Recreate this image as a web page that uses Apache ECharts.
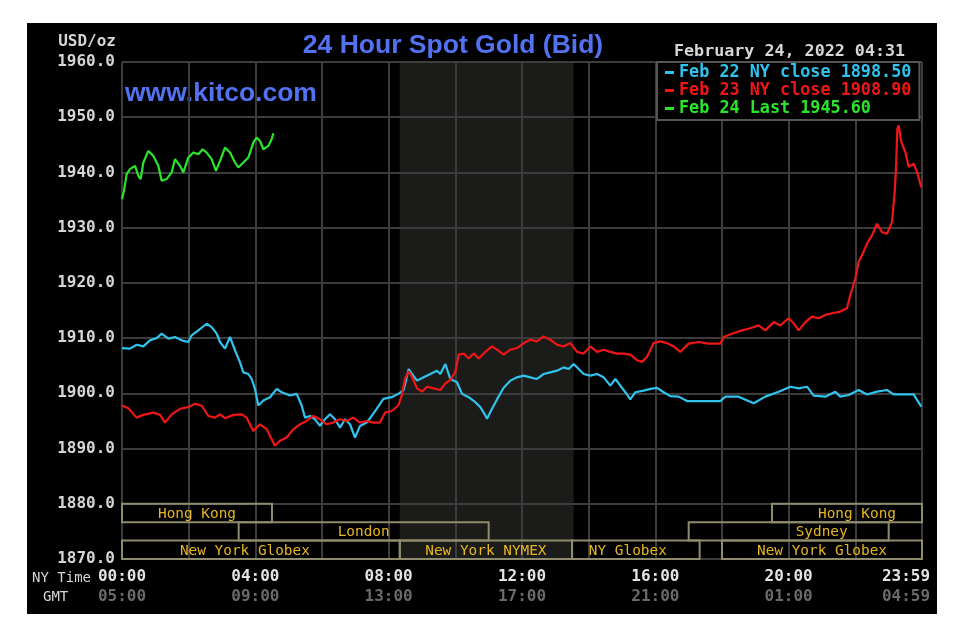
<!DOCTYPE html>
<html>
<head>
<meta charset="utf-8">
<script src="https://cdn.jsdelivr.net/npm/echarts@6.0.0/dist/echarts.min.js"></script>
<style>
  html, body { margin: 0; padding: 0; background: #ffffff; }
  #panel { position: absolute; left: 27px; top: 23px; width: 910px; height: 591px; background: #000000; }
  #chart { position: absolute; left: 0; top: 0; width: 960px; height: 640px; }
</style>
</head>
<body>
<div id="panel"></div>
<div id="chart"></div>
<script>
// ---------- data ----------
const seriesNames = ['Feb 22 NY close 1898.50', 'Feb 23 NY close 1908.90', 'Feb 24 Last 1945.60'];

const feb22Hours = [0,0.24,0.44,0.64,0.84,1.04,1.19,1.39,1.59,1.79,
  1.99,2.09,2.29,2.54,2.69,2.84,2.94,3.09,3.24,3.39,
  3.54,3.64,3.79,3.89,3.99,4.09,4.24,4.44,4.64,4.79,
  5.04,5.24,5.39,5.49,5.64,5.79,5.94,6.04,6.24,6.39,
  6.54,6.69,6.84,6.99,7.14,7.34,7.49,7.64,7.84,8.09,
  8.29,8.45,8.60,8.70,8.85,9.05,9.25,9.45,9.55,9.70,
  9.85,10.05,10.20,10.40,10.60,10.75,10.90,10.95,11.10,11.25,
  11.45,11.65,11.85,12.05,12.25,12.45,12.65,12.85,13.05,13.25,
  13.40,13.55,13.70,13.85,14.05,14.25,14.45,14.65,14.80,14.95,
  15.10,15.25,15.40,15.65,15.85,16.05,16.25,16.45,16.70,16.95,
  17.30,17.95,18.10,18.50,18.95,19.30,19.70,20.05,20.30,20.55,
  20.75,21.10,21.40,21.55,21.80,22.10,22.35,22.65,22.95,23.15,
  23.50,23.75,23.85,23.98];
const feb22Price = [1908.2,1908.1,1908.8,1908.5,1909.6,1910.0,1910.8,1909.9,1910.2,1909.6,
  1909.3,1910.5,1911.4,1912.6,1912.0,1910.8,1909.3,1908.1,1910.2,1907.8,
  1905.6,1903.8,1903.5,1902.6,1900.8,1897.8,1898.7,1899.3,1900.8,1900.2,
  1899.6,1899.9,1897.8,1895.6,1895.9,1895.3,1894.1,1895.0,1896.2,1895.3,
  1893.8,1895.3,1894.4,1892.0,1894.1,1894.7,1895.9,1897.2,1899.0,1899.3,
  1899.9,1900.6,1904.4,1903.5,1902.3,1902.9,1903.5,1904.1,1903.5,1905.3,
  1902.6,1902.0,1899.9,1899.3,1898.4,1897.5,1896.0,1895.4,1897.2,1898.9,
  1901.0,1902.3,1902.9,1903.2,1902.9,1902.6,1903.5,1903.8,1904.1,1904.7,
  1904.4,1905.3,1904.4,1903.5,1903.2,1903.5,1902.9,1901.4,1902.6,1901.4,
  1900.2,1898.9,1900.2,1900.5,1900.8,1901.0,1900.2,1899.5,1899.4,1898.6,
  1898.6,1898.6,1899.4,1899.4,1898.2,1899.4,1900.3,1901.2,1900.9,1901.2,
  1899.6,1899.4,1900.3,1899.4,1899.7,1900.6,1899.8,1900.3,1900.6,1899.8,
  1899.8,1899.8,1898.8,1897.6];

const feb23Hours = [0,0.19,0.44,0.64,0.94,1.14,1.29,1.49,1.74,1.99,
  2.19,2.39,2.59,2.79,2.94,3.09,3.34,3.59,3.74,3.94,
  4.14,4.34,4.49,4.59,4.74,4.94,5.14,5.34,5.54,5.74,
  5.94,6.14,6.34,6.54,6.74,6.94,7.14,7.34,7.54,7.74,
  7.89,8.09,8.29,8.39,8.49,8.60,8.70,8.85,9.00,9.15,
  9.35,9.55,9.70,9.85,10.00,10.10,10.25,10.40,10.55,10.70,
  10.90,11.10,11.25,11.45,11.65,11.85,12.05,12.25,12.45,12.65,
  12.85,13.05,13.25,13.45,13.65,13.85,14.05,14.25,14.45,14.65,
  14.85,15.05,15.25,15.45,15.60,15.75,15.95,16.15,16.35,16.55,
  16.75,17.00,17.30,17.60,17.95,18.05,18.30,18.60,18.80,19.10,
  19.30,19.55,19.75,20.00,20.15,20.30,20.50,20.70,20.90,21.10,
  21.30,21.55,21.75,21.85,22.00,22.10,22.20,22.35,22.50,22.65,
  22.80,22.95,23.10,23.18,23.22,23.26,23.30,23.38,23.50,23.60,
  23.75,23.85,23.98];
const feb23Price = [1897.8,1897.3,1895.6,1896.1,1896.5,1896.1,1894.7,1896.2,1897.2,1897.5,
  1898.1,1897.8,1895.9,1895.6,1896.2,1895.5,1896.1,1896.2,1895.6,1893.2,
  1894.4,1893.5,1891.7,1890.5,1891.4,1892.0,1893.5,1894.4,1895.0,1895.9,
  1895.3,1894.4,1894.7,1895.3,1895.0,1895.6,1894.7,1895.0,1894.7,1894.7,
  1896.5,1896.8,1897.8,1899.6,1902.6,1904.0,1903.0,1900.9,1900.3,1901.2,
  1900.9,1900.6,1901.8,1902.4,1903.9,1907.0,1907.2,1906.3,1907.2,1906.3,
  1907.5,1908.5,1907.9,1907.0,1907.9,1908.2,1909.1,1909.7,1909.4,1910.3,
  1909.7,1908.8,1908.5,1909.1,1907.5,1907.2,1908.5,1907.5,1907.9,1907.5,
  1907.2,1907.2,1907.0,1906.0,1905.7,1906.6,1909.1,1909.4,1909.1,1908.5,
  1907.5,1909.0,1909.3,1909.0,1909.0,1910.2,1910.8,1911.4,1911.7,1912.3,
  1911.4,1912.9,1912.3,1913.6,1912.7,1911.4,1912.9,1913.9,1913.6,1914.2,
  1914.5,1914.8,1915.4,1917.8,1920.8,1923.8,1925.0,1927.1,1928.6,1930.7,
  1929.2,1928.9,1931.0,1936.4,1940.7,1947.9,1948.5,1945.5,1943.7,1941.0,
  1941.6,1940.1,1937.3];

const feb24Hours = [0,0.06,0.14,0.24,0.39,0.49,0.56,0.64,0.79,0.94,
  1.09,1.19,1.34,1.49,1.59,1.74,1.84,1.99,2.14,2.29,
  2.42,2.54,2.69,2.82,2.94,3.09,3.24,3.39,3.49,3.64,
  3.79,3.94,4.04,4.14,4.24,4.39,4.49,4.54];
const feb24Price = [1935.2,1936.7,1939.7,1940.6,1941.2,1939.4,1938.8,1941.8,1943.9,1943.0,
  1941.2,1938.5,1938.8,1940.0,1942.4,1941.2,1940.0,1942.7,1943.6,1943.3,
  1944.2,1943.6,1942.4,1940.3,1942.1,1944.5,1943.6,1941.8,1940.9,1941.8,
  1942.7,1945.4,1946.3,1945.7,1944.2,1944.8,1946.0,1947.1];

// x tick labels (every 4 hours)
const nyTimeLabels = ['00:00','04:00','08:00','12:00','16:00','20:00','23:59'];
const gmtLabels = ['05:00','09:00','13:00','17:00','21:00','01:00','04:59'];

// NYMEX floor session (shaded), hours
const nymexStart = 8.333;
const nymexEnd = 13.55;

// trading sessions (hours) and row
const sessionNames = ['Hong Kong','Hong Kong','London','Sydney','New York Globex','New York NYMEX','NY Globex','New York Globex'];
const sessionRow = [0, 0, 1, 1, 2, 2, 2, 2];
const sessionStart = [0, 19.5, 3.5, 17, 0, 8.333, 13.5, 18];
const sessionEnd = [4.5, 24, 11, 23, 8.333, 13.5, 17.33, 24];

// ---------- styles ----------
const seriesColors = ['#2fc3ee', '#f01616', '#2ae62a'];
const labelShift = [0, 10, 0, 33, -16, 0, -8, 0];
const MONO = '"DejaVu Sans Mono", "Liberation Mono", monospace';
const SANS = '"Liberation Sans", Arial, sans-serif';
const GRID_COLOR = '#3c3c3c';

function pairs(h, p) { return h.map((x, i) => [x, p[i]]); }

const chart = echarts.init(document.getElementById('chart'), null, { renderer: 'canvas' });

const rowH = 10 / 3;

const option = {
  backgroundColor: 'transparent',
  animation: false,
  grid: { left: 122, right: 38, top: 62, bottom: 81, containLabel: false, outerBoundsMode: 'none' },
  xAxis: {
    type: 'value', min: 0, max: 24, interval: 2,
    axisLine: { show: false }, axisTick: { show: false },
    splitLine: { show: true, lineStyle: { color: GRID_COLOR, width: 2 } },
    axisLabel: {
      margin: 8,
      formatter: function (v) {
        if (v % 4 !== 0) return '';
        const i = v / 4;
        if (v === 24) return '{a2|' + nyTimeLabels[i] + '}\n{b2|' + gmtLabels[i] + '}';
        return '{a|' + nyTimeLabels[i] + '}\n{b|' + gmtLabels[i] + '}';
      },
      rich: {
        a: { fontFamily: MONO, fontWeight: 'bold', fontSize: 16, color: '#e4e4e4', lineHeight: 20 },
        b: { fontFamily: MONO, fontWeight: 'bold', fontSize: 16, color: '#6a6a6a', lineHeight: 20 },
        a2: { fontFamily: MONO, fontWeight: 'bold', fontSize: 16, color: '#e4e4e4', lineHeight: 20, padding: [0, 32, 0, 0] },
        b2: { fontFamily: MONO, fontWeight: 'bold', fontSize: 16, color: '#6a6a6a', lineHeight: 20, padding: [0, 32, 0, 0] }
      }
    }
  },
  yAxis: {
    type: 'value', min: 1870, max: 1960, interval: 10,
    axisLine: { show: false }, axisTick: { show: false },
    splitLine: { show: true, lineStyle: { color: GRID_COLOR, width: 2 } },
    axisLabel: {
      margin: 7, color: '#d6d6d6', fontFamily: MONO, fontWeight: 'bold', fontSize: 16,
      formatter: function (v) { return v.toFixed(1); }
    }
  },
  legend: {
    orient: 'vertical', left: 657, top: 62, selectedMode: false,
    backgroundColor: '#000', borderColor: '#555', borderWidth: 2,
    padding: [2, 8, 3, 8], itemGap: 1, itemWidth: 9, itemHeight: 3, icon: 'rect',
    textStyle: { fontFamily: MONO, fontWeight: 'bold', fontSize: 16.8 },
    data: seriesNames.map((n, i) => ({ name: n, textStyle: { color: seriesColors[i] } }))
  },
  graphic: [
    { type: 'text', x: 453, y: 46, style: { text: '24 Hour Spot Gold (Bid)', font: 'bold 26.5px ' + SANS, fill: '#5272f2', align: 'center', verticalAlign: 'middle', textAlign: 'center', textVerticalAlign: 'middle' } },
    { type: 'text', x: 125, y: 94, style: { text: 'www.kitco.com', font: 'bold 26.5px ' + SANS, fill: '#5272f2', align: 'left', verticalAlign: 'middle', textAlign: 'left', textVerticalAlign: 'middle' } },
    { type: 'text', x: 116, y: 42, style: { text: 'USD/oz', font: 'bold 16px ' + MONO, fill: '#d6d6d6', align: 'right', verticalAlign: 'middle', textAlign: 'right', textVerticalAlign: 'middle' } },
    { type: 'text', x: 674, y: 52, style: { text: 'February 24, 2022 04:31', font: 'bold 16.7px ' + MONO, fill: '#d6d6d6', align: 'left', verticalAlign: 'middle', textAlign: 'left', textVerticalAlign: 'middle' } },
    { type: 'text', x: 32, y: 578, style: { text: 'NY Time', font: '14px ' + MONO, fill: '#d6d6d6', align: 'left', verticalAlign: 'middle', textAlign: 'left', textVerticalAlign: 'middle' } },
    { type: 'text', x: 43, y: 597, style: { text: 'GMT', font: '14px ' + MONO, fill: '#d6d6d6', align: 'left', verticalAlign: 'middle', textAlign: 'left', textVerticalAlign: 'middle' } }
  ],
  series: [
    {
      name: 'nymexShade', type: 'custom', z: -1, silent: true,
      data: [[nymexStart, nymexEnd]],
      renderItem: function (params, api) {
        const p1 = api.coord([api.value(0), 1960]);
        const p2 = api.coord([api.value(1), 1870]);
        return { type: 'rect', shape: { x: p1[0], y: p1[1], width: p2[0] - p1[0], height: p2[1] - p1[1] }, style: { fill: '#1b1c19' } };
      }
    },
    {
      name: seriesNames[0], type: 'line', data: pairs(feb22Hours, feb22Price),
      showSymbol: false, symbol: 'none', color: seriesColors[0], z: 3,
      lineStyle: { width: 2.2, color: seriesColors[0] }
    },
    {
      name: seriesNames[1], type: 'line', data: pairs(feb23Hours, feb23Price),
      showSymbol: false, symbol: 'none', color: seriesColors[1], z: 4,
      lineStyle: { width: 2.2, color: seriesColors[1] }
    },
    {
      name: seriesNames[2], type: 'line', data: pairs(feb24Hours, feb24Price),
      showSymbol: false, symbol: 'none', color: seriesColors[2], z: 4,
      lineStyle: { width: 2.2, color: seriesColors[2] }
    },
    {
      name: 'sessions', type: 'custom', z: 5, silent: true, clip: false,
      encode: { x: [0, 1] },
      data: sessionStart.map((s, i) => [s, sessionEnd[i], sessionRow[i]]),
      renderItem: function (params, api) {
        const idx = params.dataIndex;
        const row = api.value(2);
        const top = 1880 - row * rowH;
        const bot = top - rowH;
        const p1 = api.coord([api.value(0), top]);
        const p2 = api.coord([api.value(1), bot]);
        return {
          type: 'group',
          children: [
            { type: 'rect', shape: { x: p1[0], y: p1[1], width: p2[0] - p1[0], height: p2[1] - p1[1] },
              style: { fill: 'none', stroke: '#8e8c6c', lineWidth: 2 } },
            { type: 'text', style: { text: sessionNames[idx], x: (p1[0] + p2[0]) / 2 + labelShift[idx], y: (p1[1] + p2[1]) / 2 + 1,
              align: 'center', verticalAlign: 'middle', textAlign: 'center', textVerticalAlign: 'middle',
              fill: '#e6b622', font: '14.4px ' + MONO } }
          ]
        };
      }
    }
  ]
};

chart.setOption(option);
</script>
</body>
</html>
